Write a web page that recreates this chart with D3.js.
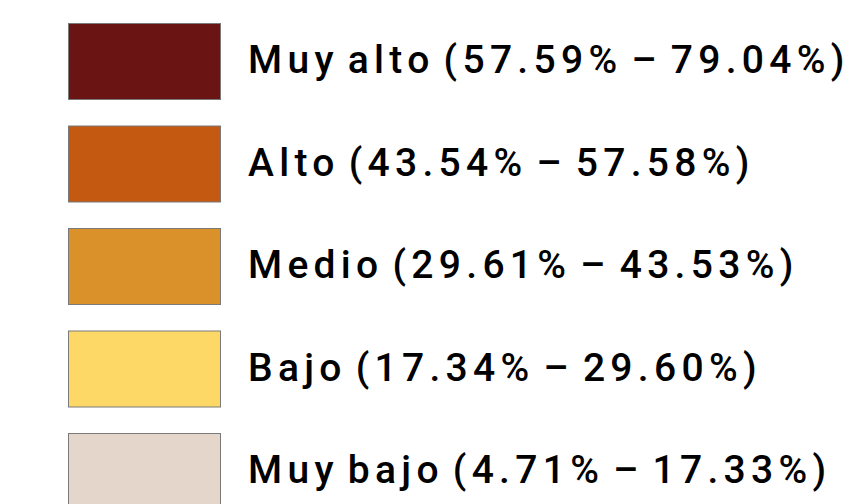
<!DOCTYPE html>
<html>
<head>
<meta charset="utf-8">
<script src="https://cdn.jsdelivr.net/npm/d3@7"></script>
<style>
  body { margin: 0; background: #fff; }
  svg text { font-family: Roboto, "DejaVu Sans", sans-serif; }
</style>
</head>
<body>
<svg id="chart" width="864" height="504"></svg>
<script>
// legend categories, ranges and colours
let categories = ["Muy alto", "Alto", "Medio", "Bajo", "Muy bajo"];
let lows = ["57.59%", "43.54%", "29.61%", "17.34%", "4.71%"];
let highs = ["79.04%", "57.58%", "43.53%", "29.60%", "17.33%"];
let colors = ["#6b1414", "#c45911", "#db9129", "#fdd866", "#e4d6ca"];

let svg = d3.select("#chart");

let y = d3.scalePoint()
          .domain(categories)
          .range([23, 433]);

let color = d3.scaleOrdinal()
              .domain(categories)
              .range(colors);

let rows = svg.selectAll("g.row")
              .data(categories)
              .enter().append("g")
              .attr("class", "row")
              .attr("transform", function(d) { return "translate(0," + y(d) + ")"; });

rows.append("rect")
    .attr("x", 68.5)
    .attr("y", 0.5)
    .attr("width", 152)
    .attr("height", 76)
    .attr("fill", function(d) { return color(d); })
    .attr("stroke", "#7a7a7a")
    .attr("stroke-width", 1);

rows.append("text")
    .attr("x", 248)
    .attr("y", 50)
    .attr("font-size", 39)
    .attr("font-weight", 500)
    .attr("letter-spacing", 5.3)
    .attr("word-spacing", -6)
    .attr("fill", "#000")
    .text(function(d, i) { return d + " (" + lows[i] + " – " + highs[i] + ")"; });
</script>
</body>
</html>
